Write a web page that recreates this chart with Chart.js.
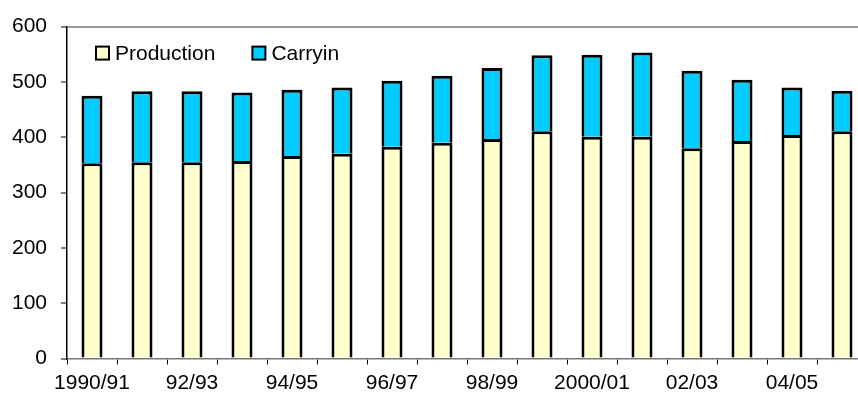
<!DOCTYPE html>
<html>
<head>
<meta charset="utf-8">
<script src="https://cdn.jsdelivr.net/npm/chart.js@4.4.1/dist/chart.umd.min.js"></script>
<style>
    html, body { margin: 0; padding: 0; background: #fff; overflow: hidden; }
    #wrap { width: 858px; height: 403px; overflow: hidden; }
</style>
</head>
<body>
<div id="wrap"><canvas id="chart" width="870" height="403"></canvas></div>
<script>
// Marketing years (only every second one gets a label on the axis)
const seasons = ['1990/91', '91/92', '92/93', '93/94', '94/95', '95/96', '96/97', '97/98',
    '98/99', '99/00', '2000/01', '01/02', '02/03', '03/04', '04/05', '05/06'];
const production = [353, 355, 355, 357, 366, 370, 383, 390, 397, 411, 401, 401, 380, 393, 404, 411];
const carryin = [122, 128, 128, 124, 120, 120, 119, 121, 128, 137, 148, 152, 140, 111, 86, 73];
const yTicks = [0, 100, 200, 300, 400, 500, 600];

const fontFamily = 'Arial, "Liberation Sans", sans-serif';
const axisFont = { family: fontFamily, size: 21 };

// Legend row inside the plot area, boxes side by side like the Excel original
const insideLegend = {
    id: 'insideLegend',
    afterDraw(chart) {
        const ctx = chart.ctx;
        const area = chart.chartArea;
        let x = area.left + 29;
        const y = area.top + 20;
        const box = 13;
        ctx.save();
        ctx.font = '21px ' + fontFamily;
        ctx.textBaseline = 'middle';
        ctx.textAlign = 'left';
        for (let ds of chart.data.datasets) {
            ctx.fillStyle = ds.backgroundColor;
            ctx.fillRect(x, y, box, box);
            ctx.lineWidth = 2;
            ctx.strokeStyle = '#000';
            ctx.strokeRect(x, y, box, box);
            ctx.fillStyle = '#000';
            ctx.fillText(ds.label, x + box + 6, y + box / 2 + 1);
            x += box + 6 + ctx.measureText(ds.label).width + 37;
        }
        ctx.restore();
    }
};

new Chart(document.getElementById('chart'), {
    type: 'bar',
    data: {
        labels: seasons,
        datasets: [{
            label: 'Production',
            data: production,
            backgroundColor: '#FFFFCC',
            borderColor: '#000',
            borderWidth: 3
        }, {
            label: 'Carryin',
            data: carryin,
            backgroundColor: '#00CCFF',
            borderColor: '#000',
            borderWidth: 3
        }]
    },
    options: {
        responsive: false,
        animation: false,
        devicePixelRatio: 1,
        layout: { padding: { top: 23, right: 3, left: 0, bottom: 0 } },
        datasets: {
            bar: { categoryPercentage: 1, barPercentage: 0.42 }
        },
        scales: {
            x: {
                stacked: true,
                offset: true,
                afterFit(scale) { scale.height = 44.5; },
                grid: {
                    offset: true,
                    drawOnChartArea: false,
                    tickLength: 6,
                    tickColor: '#000'
                },
                border: { color: '#777', width: 1.5 },
                ticks: {
                    autoSkip: false,
                    maxRotation: 0,
                    padding: 6,
                    color: '#000',
                    font: axisFont,
                    callback(value, index) {
                        return index % 2 === 0 ? seasons[index] : '';
                    }
                }
            },
            y: {
                stacked: true,
                min: 0,
                max: 600,
                afterFit(scale) { scale.width = 67; },
                afterBuildTicks(scale) {
                    scale.ticks = yTicks.map(v => ({ value: v }));
                },
                grid: {
                    color(c) {
                        return c.tick && c.tick.value === 600 ? '#999' : 'rgba(0,0,0,0)';
                    },
                    lineWidth: 2,
                    tickLength: 6,
                    tickColor: '#000',
                    tickWidth: 1
                },
                border: { color: '#000', width: 1.5 },
                ticks: {
                    padding: 14,
                    color: '#000',
                    font: axisFont
                }
            }
        },
        plugins: {
            legend: { display: false },
            tooltip: { enabled: false },
            title: { display: false }
        }
    },
    plugins: [insideLegend]
});
</script>
</body>
</html>
